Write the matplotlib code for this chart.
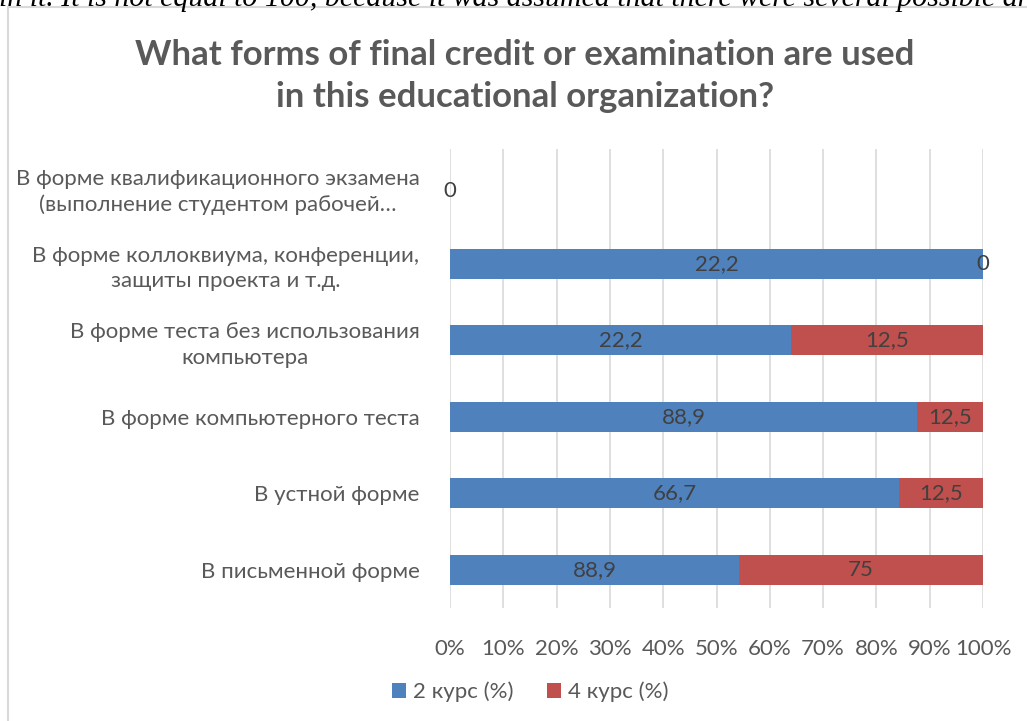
import numpy as np
import matplotlib
matplotlib.use("Agg")
import matplotlib.pyplot as plt
from matplotlib.patches import Rectangle

plt.rcParams['font.family'] = ['Lato', 'DejaVu Sans']

categories = [
    "В письменной форме",
    "В устной форме",
    "В форме компьютерного теста",
    "В форме теста без использования\nкомпьютера",
    "В форме коллоквиума, конференции,\nзащиты проекта и т.д.",
    "В форме квалификационного экзамена\n(выполнение студентом рабочей…",
]
course2 = [88.9, 66.7, 88.9, 22.2, 22.2, 0]
course4 = [75, 12.5, 12.5, 12.5, 0, 0]
series_names = ["2 курс (%)", "4 курс (%)"]
ticks = np.arange(0, 101, 10)

BLUE = "#4F81BD"
RED = "#C0504D"
GREY = "#595959"
LABEL = "#404040"
FS = 16

c2 = np.array(course2, dtype=float)
c4 = np.array(course4, dtype=float)
total = c2 + c4
share2 = np.divide(c2, total, out=np.zeros_like(c2), where=total > 0) * 100
share4 = np.divide(c4, total, out=np.zeros_like(c4), where=total > 0) * 100

fig = plt.figure(figsize=(10.27, 7.21), dpi=100)
fig.patch.set_facecolor("white")

# chart frame and the clipped line of document text above it
fig.patches.append(Rectangle((8 / 1027, -0.05), 1.1, 1 - 7 / 721 + 0.05,
                             transform=fig.transFigure, fill=False,
                             edgecolor="#D9D9D9", lw=1.5))
fig.text(0.495, 1 - 6.5 / 721, "ain it. It is not equal to 100, because it was assumed that there were several possible an",
         ha="center", va="baseline", fontsize=21.5, style="italic",
         family="Liberation Serif", color="black")

ax = fig.add_axes([450 / 1027, 1 - 608 / 721, 533 / 1027, 459 / 721])
y = np.arange(len(categories))
h = 0.39
ax.barh(y, share2, height=h, color=BLUE, label=series_names[0], zorder=3)
ax.barh(y, share4, left=share2, height=h, color=RED, label=series_names[1], zorder=3)

for i in range(len(categories)):
    if total[i] == 0:
        ax.text(0, y[i] - 0.05, "0", ha="center", va="center", fontsize=FS, color=LABEL)
        continue
    ax.text(share2[i] / 2, y[i], f"{course2[i]:g}".replace(".", ","),
            ha="center", va="center", fontsize=FS, color=LABEL, zorder=4)
    ax.text(share2[i] + share4[i] / 2, y[i], f"{course4[i]:g}".replace(".", ","),
            ha="center", va="center", fontsize=FS, color=LABEL, zorder=4)

ax.set_xlim(0, 100)
ax.set_ylim(-0.5, len(categories) - 0.5)
ax.set_xticks(ticks)
ax.set_xticklabels([f"{t}%" for t in ticks])
ax.set_yticks(y)
ax.set_yticklabels(categories, multialignment="center", linespacing=1.35)
ax.tick_params(axis="both", length=0, labelsize=FS, labelcolor=GREY)
ax.tick_params(axis="x", pad=22)
ax.tick_params(axis="y", pad=22)
ax.grid(axis="x", color="#D9D9D9", lw=1.2, zorder=0)
for s in ax.spines.values():
    s.set_visible(False)

fig.text(0.511, 1 - 76 / 721, "What forms of final credit or examination are used\nin this educational organization?",
         ha="center", va="center", fontsize=25, fontweight="bold", color=GREY,
         linespacing=1.4)

fig.legend(loc="center", bbox_to_anchor=(530 / 1027, 1 - 692 / 721), ncol=2,
           frameon=False, fontsize=FS, labelcolor=GREY, handlelength=0.65,
           handleheight=0.65, handletextpad=0.3, columnspacing=1.5)

fig.savefig("out.png", dpi=100)
